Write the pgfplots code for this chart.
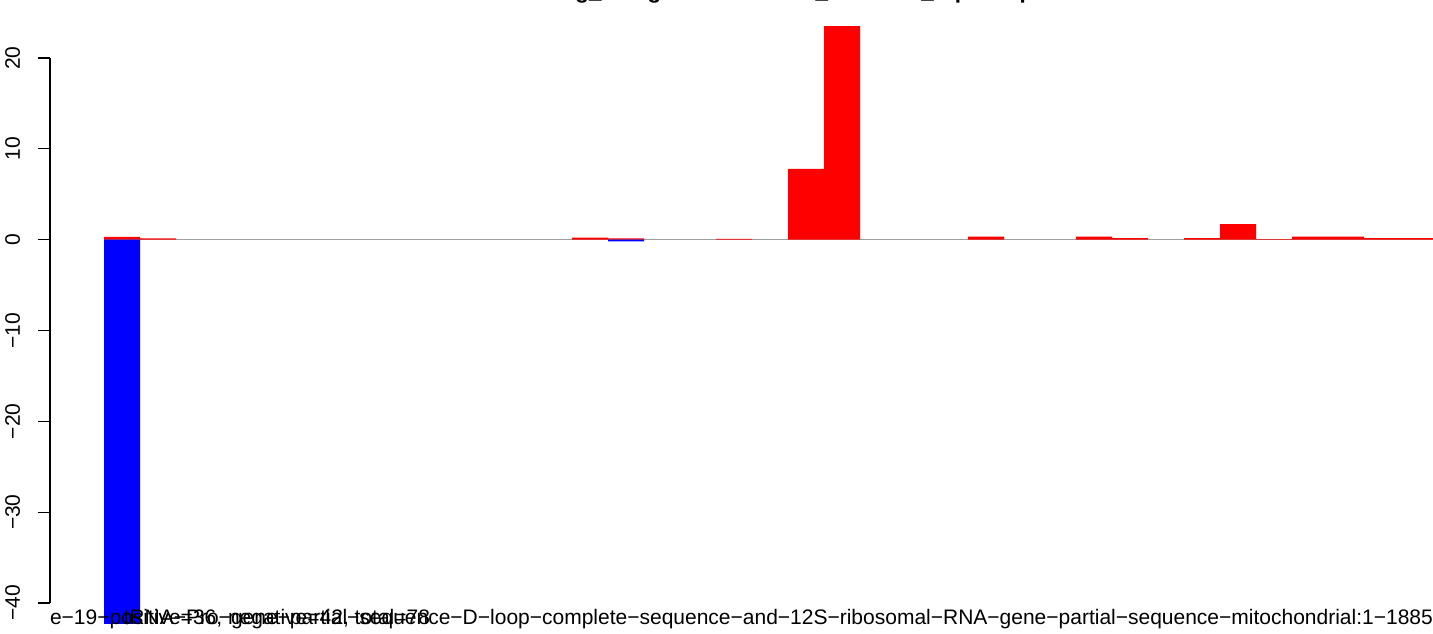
\documentclass[border=0pt]{standalone}
\usepackage{pgfplots}
\pgfplotsset{compat=1.18}
\usepackage{fontspec}
\setmainfont{Liberation Sans}
\begin{document}
\begin{tikzpicture}
\begin{axis}[
  at={(50bp,31bp)}, anchor=south west,
  scale only axis, width=1383bp, height=545bp,
  xmin=-2, xmax=36.4167, ymin=-40, ymax=20,
  clip=false,
  axis x line=none,
  axis y line*=left,
  axis line style={line width=1.3bp, black},
  ytick={-40,-30,-20,-10,0,10,20},
  yticklabels={−40,−30,−20,−10,0,10,20},
  ytick pos=left,
  tick align=outside,
  major tick length=12bp,
  tick style={line width=1.3bp, black},
  yticklabel style={rotate=90, anchor=base, yshift=18bp, font=\fontsize{21bp}{25bp}\selectfont},
]
\addplot[gray!75, line width=1.5bp] coordinates {(-0.5,0) (36.5,0)};
\addplot[ybar, bar width=1, bar shift=0pt, fill=red, draw=none] coordinates {
(0,0.3) (1,0.15) (13,0.22) (14,0.15) (17,0.1) (19,7.78) (20,23.5) (24,0.33) (27,0.33) (28,0.18) (30,0.18) (31,1.72) (32,0.07) (33,0.33) (34,0.33) (35,0.18) (36,0.18)};
\addplot[ybar, bar width=1, bar shift=0pt, fill=blue, draw=none] coordinates {
(0,-42.3) (14,-0.18)};
\end{axis}
\begin{scope}[every node/.style={inner sep=0pt, outer sep=0pt, font=\fontsize{21bp}{25bp}\selectfont}]
\node[anchor=base west] at (50bp,10bp) {e−19−positive=36, negative=42, total=78};
\node[anchor=base east] at (1433bp,10bp) {tRNA−Pro−gene−partial−sequence−D−loop−complete−sequence−and−12S−ribosomal−RNA−gene−partial−sequence−mitochondrial:1−1885};
\node[anchor=base west, font=\bfseries\fontsize{22.4bp}{26bp}\selectfont] at (421bp,635bp) {Read clustering\_using mitochondrial\_contents\_top samples};
\end{scope}
\pgfresetboundingbox
\useasboundingbox (0,0) rectangle (1433bp,634bp);
\end{tikzpicture}
\end{document}
